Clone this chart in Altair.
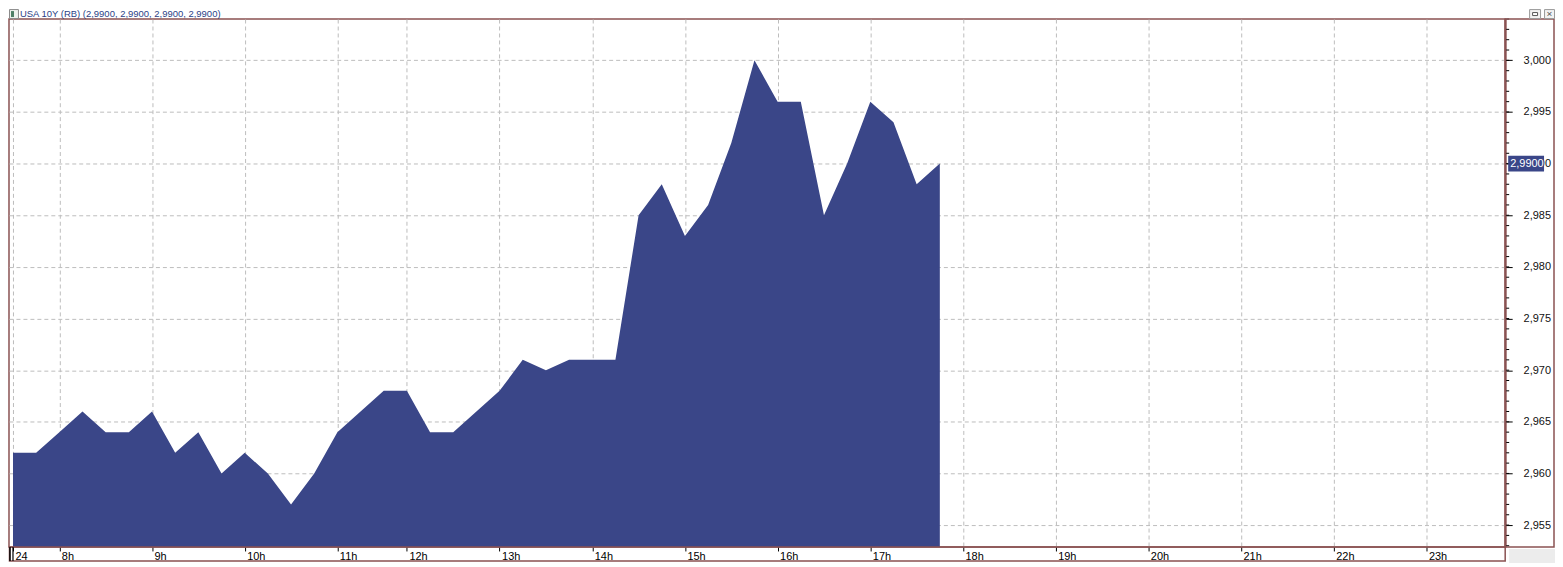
import json
import altair as alt
import pandas as pd

# ---------------- data ----------------
bar_index = list(range(41))
values = [2.962, 2.962, 2.964, 2.966, 2.964, 2.964, 2.966, 2.962, 2.964, 2.960,
          2.962, 2.960, 2.957, 2.960, 2.964, 2.966, 2.968, 2.968, 2.964, 2.964,
          2.966, 2.968, 2.971, 2.970, 2.971, 2.971, 2.971, 2.985, 2.988, 2.983,
          2.986, 2.992, 3.000, 2.996, 2.996, 2.985, 2.990, 2.996, 2.994, 2.988,
          2.990]
tick_pos = [0, 2, 6, 10, 14, 17, 21, 25, 29, 33, 37, 41, 45, 49, 53, 57, 61]
tick_labels = ["24", "8h", "9h", "10h", "11h", "12h", "13h", "14h", "15h", "16h",
               "17h", "18h", "19h", "20h", "21h", "22h", "23h"]
y_major = [2.955, 2.960, 2.965, 2.970, 2.975, 2.980, 2.985, 2.990, 2.995, 3.000]
y_minor = [round(2.953 + k * 0.001, 3) for k in range(52)]
last_value = [2.990]
tag_text = ["2,9900"]
title_text = ["USA 10Y (RB) (2,9900, 2,9900, 2,9900, 2,9900)"]

# ---------------- style ----------------
W, H = 1502, 530
BLUE = "#3A4688"
BROWN = "#8A5252"
GRID = "#BDBDBD"
FONT = "Liberation Sans"
XDOM = [-0.172, 64.40]
YDOM = [2.95288, 3.0040]

xs = alt.Scale(domain=XDOM, nice=False, zero=False)
ys = alt.Scale(domain=YDOM, nice=False, zero=False)

df = pd.DataFrame({"i": bar_index, "v": values})
one = pd.DataFrame({"a": [0]})

label_expr = f"{json.dumps(tick_labels)}[indexof({json.dumps(tick_pos)}, datum.value)]"

x_axis = alt.Axis(values=tick_pos, labelExpr=label_expr, orient="bottom", domain=False,
                  ticks=True, tickSize=4, tickColor="#000000", tickWidth=1,
                  labelAlign="left", labelOffset=2, labelBaseline="top", labelPadding=0,
                  labelFont=FONT, labelFontSize=11, labelColor="#000000",
                  labelFlush=False, labelOverlap=False, grid=True, gridColor=GRID,
                  gridDash=[4, 3], gridWidth=1, title=None)
y_axis = alt.Axis(values=y_major, orient="right",
                  labelExpr="replace(format(datum.value, '.3f'), '.', ',')",
                  domain=True, domainColor=BROWN, domainWidth=2,
                  ticks=True, tickSize=7, tickColor="#000000", tickWidth=1,
                  labelPadding=11, labelFont=FONT, labelFontSize=11,
                  labelColor="#111111", labelFlush=False, labelOverlap=False,
                  grid=True, gridColor=GRID, gridDash=[4, 3], gridWidth=1, title=None)

area = alt.Chart(df).mark_area(color=BLUE, interpolate="linear", clip=True, opacity=1).encode(
    x=alt.X("i:Q", scale=xs, axis=x_axis),
    y=alt.Y("v:Q", scale=ys, axis=y_axis),
    y2=alt.value(H),
)

minor = alt.Chart(pd.DataFrame({"v": y_minor})).mark_rule(color="#000000", strokeWidth=1, clip=False).encode(
    x=alt.value(W + 1), x2=alt.value(W + 4),
    y=alt.Y("v:Q", scale=ys, axis=y_axis),
)

right_panel = alt.Chart(one).mark_rect(fill="white", fillOpacity=0, stroke=BROWN, strokeWidth=1.5, clip=False).encode(
    x=alt.value(W), x2=alt.value(W + 49), y=alt.value(0), y2=alt.value(H),
)

band = alt.Chart(one).mark_rect(fill="white", fillOpacity=0, stroke=BROWN, strokeWidth=1.5, clip=False).encode(
    x=alt.value(0.5), x2=alt.value(W), y=alt.value(H), y2=alt.value(H + 14),
)

gray_corner = alt.Chart(one).mark_rect(fill="#ECECEC", clip=False).encode(
    x=alt.value(W + 4), x2=alt.value(W + 52), y=alt.value(H + 2), y2=alt.value(H + 16),
)

left_bar = alt.Chart(one).mark_rule(color="#000000", strokeWidth=1.5, clip=False).encode(
    x=alt.value(1), y=alt.value(H), y2=alt.value(H + 14),
)

day_sep = alt.Chart(pd.DataFrame({"i": tick_pos[:1]})).mark_rule(color="#000000", strokeWidth=1.2, clip=False).encode(
    x=alt.X("i:Q", scale=xs, axis=x_axis), y=alt.value(H), y2=alt.value(H + 14),
)

tag_df = pd.DataFrame({"v": last_value, "t": tag_text})
tag_bg = alt.Chart(tag_df).mark_rule(color=BLUE, strokeWidth=16, strokeCap="butt", clip=False).encode(
    x=alt.value(W + 3), x2=alt.value(W + 39), y=alt.Y("v:Q", scale=ys, axis=y_axis),
)
tag_txt = alt.Chart(tag_df).mark_text(align="left", baseline="middle", color="white",
                                      font=FONT, fontSize=11, clip=False).encode(
    x=alt.value(W + 5), y=alt.Y("v:Q", scale=ys, axis=y_axis), text="t:N",
)

title = alt.Chart(pd.DataFrame({"t": title_text})).mark_text(
    align="left", baseline="middle", color="#2A3F86", font=FONT, fontSize=9.5, clip=False
).encode(x=alt.value(11), y=alt.value(-5), text="t:N")

icon_outer = alt.Chart(one).mark_rect(fill="#EEF2EE", stroke="#8A8A8A", strokeWidth=1, clip=False).encode(
    x=alt.value(0.5), x2=alt.value(9.5), y=alt.value(-9.5), y2=alt.value(-0.5),
)
icon_inner = alt.Chart(one).mark_rect(fill="#4E7F66", clip=False).encode(
    x=alt.value(2), x2=alt.value(5), y=alt.value(-8), y2=alt.value(-2),
)

btn1 = alt.Chart(one).mark_rect(fill="#F2F2F2", stroke="#9A9A9A", strokeWidth=1, clip=False).encode(
    x=alt.value(W + 24.5), x2=alt.value(W + 35.5), y=alt.value(-9.5), y2=alt.value(-0.5),
)
btn1_glyph = alt.Chart(one).mark_rect(fill="white", stroke="#555555", strokeWidth=1, clip=False).encode(
    x=alt.value(W + 27.5), x2=alt.value(W + 32.5), y=alt.value(-6.5), y2=alt.value(-3.5),
)
btn2 = alt.Chart(one).mark_rect(fill="#F2F2F2", stroke="#9A9A9A", strokeWidth=1, clip=False).encode(
    x=alt.value(W + 39.5), x2=alt.value(W + 49.5), y=alt.value(-9.5), y2=alt.value(-0.5),
)
btn2_glyph = alt.Chart(pd.DataFrame({"t": ["×"]})).mark_text(
    align="center", baseline="middle", color="#555555", font=FONT, fontSize=10, clip=False
).encode(x=alt.value(W + 44.5), y=alt.value(-5), text="t:N")

chart = alt.layer(
    area, minor, right_panel, gray_corner, band, left_bar, day_sep,
    tag_bg, tag_txt, title, icon_outer, icon_inner, btn1, btn1_glyph, btn2, btn2_glyph,
).properties(
    width=W, height=H,
    padding={"left": 1, "top": 10, "right": 50, "bottom": 15},
    autosize=alt.AutoSizeParams(type="none"),
    background="white",
).configure_view(stroke=BROWN, strokeWidth=1.5)

chart.save("out.html", embed_options={"renderer": "svg", "actions": False})
